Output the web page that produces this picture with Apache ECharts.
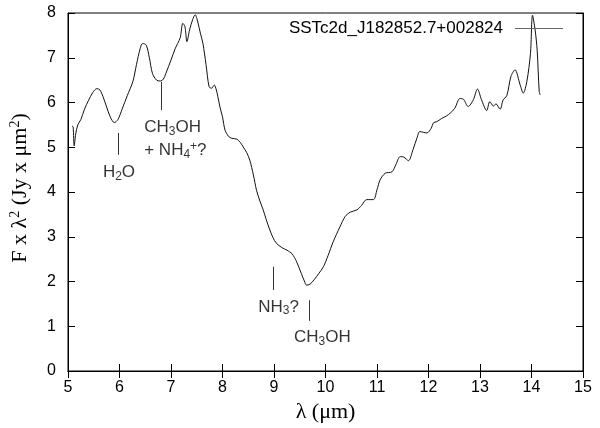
<!DOCTYPE html>
<html>
<head>
<meta charset="utf-8">
<script src="https://cdn.jsdelivr.net/npm/echarts@6/dist/echarts.min.js"></script>
<style>
  html, body { margin: 0; padding: 0; background: #fff; }
  #chart { width: 600px; height: 428px; }
</style>
</head>
<body>
<div id="chart"></div>
<script>
// spectrum
const wavelength = [
  5.08, 5.10, 5.12, 5.15, 5.19, 5.25, 5.32, 5.40, 5.48, 5.56, 5.62, 5.68, 5.75, 5.82, 5.90, 5.97,
  6.05, 6.15, 6.26, 6.33, 6.40, 6.45, 6.52, 6.58, 6.64, 6.72, 6.79, 6.85, 6.90, 7.00, 7.08, 7.13,
  7.18, 7.23, 7.27, 7.31, 7.36, 7.42, 7.47, 7.52, 7.57, 7.62, 7.68, 7.74, 7.79, 7.84, 7.88, 7.91,
  7.95, 8.00, 8.05, 8.12, 8.18, 8.28, 8.35, 8.40, 8.47, 8.53, 8.60, 8.66, 8.72, 8.79, 8.85, 8.92,
  8.98, 9.05, 9.15, 9.25, 9.35, 9.44, 9.53, 9.60, 9.63, 9.70, 9.78, 9.87, 9.96, 10.05, 10.15, 10.28,
  10.38, 10.48, 10.61, 10.70, 10.80, 10.93, 11.00, 11.06, 11.16, 11.29, 11.37, 11.45, 11.52, 11.61, 11.70, 11.78,
  11.83, 11.97, 12.05, 12.10, 12.16, 12.25, 12.35, 12.42, 12.51, 12.61, 12.68, 12.77, 12.87, 12.95, 13.03, 13.13,
  13.19, 13.26, 13.31, 13.39, 13.45, 13.52, 13.60, 13.68, 13.78, 13.84, 13.91, 13.98, 14.02, 14.07, 14.11, 14.15,
  14.17
];
const flux = [
  5.48, 5.45, 5.03, 5.30, 5.50, 5.62, 5.85, 6.05, 6.22, 6.31, 6.28, 6.13, 5.90, 5.68, 5.55, 5.62,
  5.85, 6.15, 6.47, 6.85, 7.20, 7.32, 7.28, 7.00, 6.65, 6.50, 6.48, 6.52, 6.65, 6.95, 7.20, 7.32,
  7.45, 7.77, 7.70, 7.36, 7.62, 7.85, 7.96, 7.80, 7.55, 7.32, 6.85, 6.35, 6.32, 6.39, 6.28, 6.13,
  5.90, 5.68, 5.38, 5.24, 5.20, 5.18, 5.10, 5.01, 4.88, 4.71, 4.38, 4.04, 3.82, 3.60, 3.38, 3.15,
  2.98, 2.85, 2.76, 2.70, 2.62, 2.44, 2.18, 1.98, 1.92, 1.94, 2.04, 2.18, 2.33, 2.58, 2.89, 3.22,
  3.45, 3.55, 3.60, 3.70, 3.83, 3.83, 4.05, 4.27, 4.42, 4.45, 4.62, 4.79, 4.78, 4.70, 4.95, 5.22,
  5.35, 5.32, 5.42, 5.55, 5.57, 5.64, 5.70, 5.76, 5.87, 6.09, 6.07, 5.91, 6.06, 6.30, 6.06, 5.82,
  6.02, 5.92, 5.97, 5.85, 6.06, 6.15, 6.58, 6.73, 6.39, 6.21, 6.47, 7.10, 7.95, 7.62, 7.17, 6.24,
  6.17
];
const seriesName = "SSTc2d_J182852.7+002824";

// feature marks: short vertical lines + labels
const tickX = [5.98, 6.82, 8.99, 9.69];
const tickTop = [5.32, 6.46, 2.33, 1.58];
const tickBottom = [4.83, 5.83, 1.81, 1.12];

const labelX = [5.99, 6.48, 9.09, 9.94];
const labelY = [4.43, 5.18, 1.43, 0.75];
const labelAlign = ["center", "left", "center", "center"];
const labelText = [
  "H{sub|2}O",
  "CH{sub|3}OH\n+ NH{sub|4}{sup|+}?",
  "NH{sub|3}?",
  "CH{sub|3}OH"
];

const xTicks = [5, 15, 1];
const yTicks = [0, 8, 1];

var myChart = echarts.init(document.getElementById("chart"));

const sans = "Liberation Sans";
const serif = "Liberation Serif";
const richText = {
  sub: { fontSize: 12, fontFamily: sans, color: "#000", padding: [8, 0, 0, 0] },
  sup: { fontSize: 12, fontFamily: sans, color: "#000", padding: [0, 0, 8, 0] },
};

const axisCommon = {
  type: "value",
  splitLine: { show: false },
  axisLine: { lineStyle: { color: "#000", width: 1 } },
  axisTick: { inside: true, length: 7, lineStyle: { color: "#000" } },
};

let option = {
  animation: false,
  backgroundColor: "#fff",
  grid: {
    left: 68,
    right: 17,
    top: 13,
    bottom: 57,
    show: true,
    borderColor: "#000",
    borderWidth: 1,
  },
  legend: {
    right: 37,
    top: 20,
    padding: 0,
    align: "right",
    icon: "rect",
    itemWidth: 48,
    itemHeight: 1,
    data: [{ name: seriesName, itemStyle: { color: "#666" } }],
    textStyle: { fontFamily: sans, fontSize: 17, color: "#000", padding: [0, 7, 0, 0] },
  },
  xAxis: [
    {
      ...axisCommon,
      min: xTicks[0],
      max: xTicks[1],
      interval: xTicks[2],
      name: "λ (μm)",
      nameLocation: "middle",
      nameGap: 29,
      nameTextStyle: { fontFamily: serif, fontSize: 22, color: "#000" },
      axisLabel: { fontFamily: sans, fontSize: 16, color: "#000", margin: 9 },
    },
    {
      ...axisCommon,
      position: "top",
      min: xTicks[0],
      max: xTicks[1],
      interval: xTicks[2],
      axisLabel: { show: false },
    },
  ],
  yAxis: [
    {
      ...axisCommon,
      min: yTicks[0],
      max: yTicks[1],
      interval: yTicks[2],
      name: "F x λ{sup|2} (Jy x μm{sup|2})",
      nameLocation: "middle",
      nameGap: 36,
      nameTextStyle: {
        fontFamily: serif,
        fontSize: 22,
        color: "#000",
        padding: [0, 0, 0, 8],
        rich: {
          sup: { fontFamily: serif, fontSize: 14, color: "#000", padding: [0, 0, 10, 0] },
        },
      },
      axisLabel: { fontFamily: sans, fontSize: 16, color: "#000", margin: 12 },
    },
    {
      ...axisCommon,
      position: "right",
      min: yTicks[0],
      max: yTicks[1],
      interval: yTicks[2],
      axisLabel: { show: false },
    },
  ],
  series: [
    {
      name: seriesName,
      type: "line",
      smooth: 0.3,
      symbol: "none",
      lineStyle: { color: "#111", width: 1 },
      data: wavelength.map((w, i) => [w, flux[i]]),
      markLine: {
        silent: true,
        symbol: "none",
        label: { show: false },
        lineStyle: { color: "#333", width: 1, type: "solid" },
        data: tickX.map((x, i) => [
          { coord: [x, tickTop[i]] },
          { coord: [x, tickBottom[i]] },
        ]),
      },
    },
    {
      type: "scatter",
      symbolSize: 0,
      silent: true,
      data: labelX.map((x, i) => ({
        value: [x, labelY[i]],
        label: {
          show: true,
          position: "inside",
          align: labelAlign[i],
          verticalAlign: "middle",
          formatter: labelText[i],
          fontFamily: sans,
          fontSize: 17,
          color: "#000",
          lineHeight: 23,
          rich: richText,
        },
      })),
    },
  ],
};
myChart.setOption(option);
</script>
</body>
</html>
